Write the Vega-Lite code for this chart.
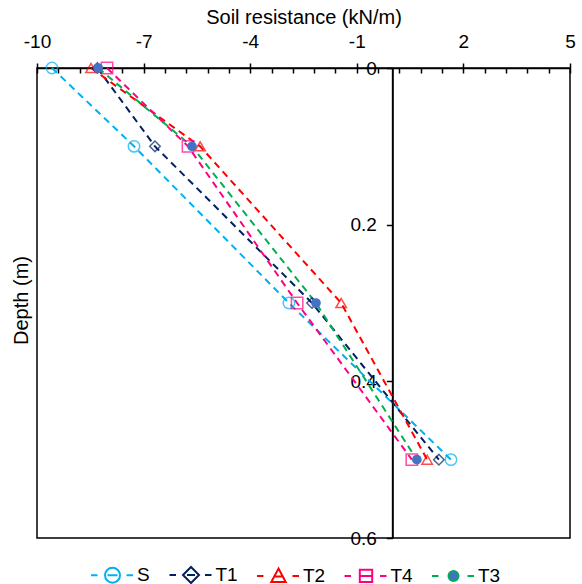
{
  "$schema": "https://vega.github.io/schema/vega-lite/v6.json",
  "autosize": "none",
  "width": 533,
  "height": 470,
  "padding": {"left": 37, "top": 68, "right": 12, "bottom": 46},
  "background": "white",
  "config": {
    "font": "Liberation Sans",
    "view": {"stroke": "black", "strokeWidth": 1.5},
    "axis": {
      "grid": false,
      "domainColor": "black",
      "tickColor": "black",
      "labelColor": "black",
      "titleColor": "black",
      "labelFontSize": 19,
      "titleFontSize": 20,
      "titleFontWeight": "normal",
      "labelFont": "Liberation Sans",
      "titleFont": "Liberation Sans"
    },
    "legend": {"labelFont": "Liberation Sans", "labelFontSize": 19, "labelColor": "black"}
  },
  "data": {
    "values": [
      {"series": "S", "depth": 0, "resistance": -9.58},
      {"series": "S", "depth": 0.1, "resistance": -7.27},
      {"series": "S", "depth": 0.3, "resistance": -2.91},
      {"series": "S", "depth": 0.5, "resistance": 1.65},
      {"series": "T1", "depth": 0, "resistance": -8.3},
      {"series": "T1", "depth": 0.1, "resistance": -6.68},
      {"series": "T1", "depth": 0.3, "resistance": -2.26},
      {"series": "T1", "depth": 0.5, "resistance": 1.31},
      {"series": "T2", "depth": 0, "resistance": -8.48},
      {"series": "T2", "depth": 0.1, "resistance": -5.41},
      {"series": "T2", "depth": 0.3, "resistance": -1.44},
      {"series": "T2", "depth": 0.5, "resistance": 0.98},
      {"series": "T4", "depth": 0, "resistance": -8.03},
      {"series": "T4", "depth": 0.1, "resistance": -5.75},
      {"series": "T4", "depth": 0.3, "resistance": -2.68},
      {"series": "T4", "depth": 0.5, "resistance": 0.55},
      {"series": "T3", "depth": 0, "resistance": -8.28},
      {"series": "T3", "depth": 0.1, "resistance": -5.64},
      {"series": "T3", "depth": 0.3, "resistance": -2.15},
      {"series": "T3", "depth": 0.5, "resistance": 0.69}
    ]
  },
  "resolve": {"axis": {"x": "independent"}},
  "layer": [
    {
      "mark": {"type": "line", "strokeDash": [7, 5], "strokeWidth": 2},
      "encoding": {
        "x": {
          "field": "resistance",
          "type": "quantitative",
          "scale": {"domain": [-10, 5], "nice": false, "zero": false},
          "axis": {
            "orient": "top",
            "title": "Soil resistance (kN/m)",
            "values": [-10, -7, -4, -1, 2, 5],
            "labelExpr": "datum.value + ''",
            "tickSize": 5,
            "tickWidth": 1.5,
            "domainWidth": 1.5,
            "labelPadding": 12,
            "titlePadding": 5,
            "labelFlush": false
          }
        },
        "y": {
          "field": "depth",
          "type": "quantitative",
          "scale": {"domain": [0, 0.6], "reverse": true, "nice": false, "zero": false},
          "axis": {
            "orient": "left",
            "offset": -355.33,
            "values": [0, 0.2, 0.4, 0.6],
            "format": "~g",
            "tickSize": 6,
            "tickWidth": 1.5,
            "domainWidth": 2,
            "labelPadding": 10,
            "labelFlush": false,
            "title": "Depth (m)",
            "titleX": -371,
            "titleY": 232,
            "titleAngle": 270,
            "titleAlign": "center",
            "titleBaseline": "middle"
          }
        },
        "color": {
          "field": "series",
          "type": "nominal",
          "scale": {
            "domain": ["S", "T1", "T2", "T4", "T3"],
            "range": ["#00B0F0", "#002060", "#FF0000", "#FF0080", "#00B050"]
          },
          "legend": {
            "orient": "none",
            "legendX": 64.5,
            "legendY": 496,
            "direction": "horizontal",
            "columns": 5,
            "title": null,
            "symbolSize": 400,
            "symbolStrokeWidth": 2,
            "labelOffset": 13.5,
            "columnPadding": 14.5,
            "encode": {
              "symbols": {
                "update": {
                  "shape": {"signal": "datum.value==='S' ? 'M-2.15,0H-1.5M1.4,0H2.05M0.75,0A0.75,0.75 0 1,1 -0.75,0A0.75,0.75 0 1,1 0.75,0M-0.5,0H0.5' : datum.value==='T1' ? 'M-2.15,0H-1.5M1.4,0H2.05M0,-0.8L0.8,0L0,0.8L-0.8,0ZM-0.4,0H0.4' : datum.value==='T2' ? 'M-2.15,0H-1.5M1.4,0H2.05M0,-0.75L0.72,0.6L-0.72,0.6ZM-0.42,0.05H0.42' : datum.value==='T4' ? 'M-2.15,0H-1.5M1.4,0H2.05M-0.62,-0.62H0.62V0.62H-0.62ZM-0.62,0H0.62' : 'M-2.15,0H-1.5M1.4,0H2.05M0.5,0A0.5,0.5 0 1,1 -0.5,0A0.5,0.5 0 1,1 0.5,0Z'"},
                  "fill": {"signal": "datum.value==='T3' ? '#4472C4' : 'transparent'"},
                  "stroke": {"signal": "datum.value==='T3' ? {gradient: 'linear', x1: 0, y1: 0, x2: 1, y2: 0, stops: [{offset: 0, color: '#00B050'}, {offset: 0.3, color: '#00B050'}, {offset: 0.3, color: '#4472C4'}, {offset: 0.7, color: '#4472C4'}, {offset: 0.7, color: '#00B050'}, {offset: 1, color: '#00B050'}]} : scale('color', datum.value)"},
                  "strokeDash": {"value": []}
                }
              }
            }
          }
        },
        "order": {"field": "depth", "type": "quantitative"}
      }
    },
    {
      "transform": [{"filter": {"field": "series", "equal": "S"}}],
      "mark": {"type": "point", "shape": "circle", "size": 130, "strokeWidth": 1.5, "filled": false, "stroke": "#00B0F0", "fill": "transparent"},
      "encoding": {
        "x": {
          "field": "resistance",
          "type": "quantitative",
          "axis": {
            "orient": "top",
            "values": [-10, -9.4, -8.8, -8.2, -7.6, -7, -6.4, -5.8, -5.2, -4.6, -4, -3.4, -2.8, -2.2, -1.6, -1, -0.4, 0.2, 0.8, 1.4, 2, 2.6, 3.2, 3.8, 4.4, 5],
            "tickSize": -5,
            "tickWidth": 1.5,
            "labels": false,
            "domain": false,
            "title": null
          }
        },
        "y": {"field": "depth", "type": "quantitative"}
      }
    },
    {
      "transform": [{"filter": {"field": "series", "equal": "T1"}}],
      "mark": {"type": "point", "shape": "diamond", "size": 110, "strokeWidth": 1.5, "filled": false, "stroke": "#002060", "fill": "transparent"},
      "encoding": {
        "x": {"field": "resistance", "type": "quantitative", "axis": null},
        "y": {"field": "depth", "type": "quantitative"}
      }
    },
    {
      "transform": [{"filter": {"field": "series", "equal": "T2"}}],
      "mark": {"type": "point", "shape": "triangle-up", "size": 110, "strokeWidth": 1.5, "filled": false, "stroke": "#FF0000", "fill": "transparent"},
      "encoding": {
        "x": {"field": "resistance", "type": "quantitative", "axis": null},
        "y": {"field": "depth", "type": "quantitative"}
      }
    },
    {
      "transform": [{"filter": {"field": "series", "equal": "T4"}}],
      "mark": {"type": "point", "shape": "square", "size": 130, "strokeWidth": 1.5, "filled": false, "stroke": "#FF0080", "fill": "transparent"},
      "encoding": {
        "x": {"field": "resistance", "type": "quantitative", "axis": null},
        "y": {"field": "depth", "type": "quantitative"}
      }
    },
    {
      "transform": [{"filter": {"field": "series", "equal": "T3"}}],
      "mark": {"type": "point", "shape": "circle", "size": 95, "strokeWidth": 0, "filled": true, "fill": "#4472C4", "opacity": 1},
      "encoding": {
        "x": {"field": "resistance", "type": "quantitative", "axis": null},
        "y": {"field": "depth", "type": "quantitative"}
      }
    }
  ]
}
